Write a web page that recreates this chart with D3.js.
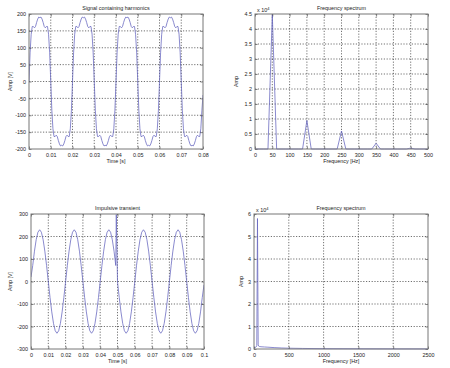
<!DOCTYPE html>
<html><head><meta charset="utf-8">
<script src="https://cdn.jsdelivr.net/npm/d3@7"></script>
<style>
html,body{margin:0;padding:0;background:#fff;}
svg{display:block;font-family:"Liberation Sans",Arial,sans-serif;}
</style></head>
<body><svg id="c" width="450" height="368"></svg>
<script>
// ---------- DATA ----------
// Panel 1: signal containing harmonics, sampled every 0.0005 s from 0 to 0.08 s
const harmonicStep = 0.0005;
const harmonicValues = [
 0,
 85,140,163,163,159,163,175,185,191,189,191,185,175,163,159,163,163,140,85,
 0,
 -85,-140,-163,-163,-159,-163,-175,-185,-191,-189,-191,-185,-175,-163,-159,-163,-163,-140,-85,
 0,
 85,140,163,163,159,163,175,185,191,189,191,185,175,163,159,163,163,140,85,
 0,
 -85,-140,-163,-163,-159,-163,-175,-185,-191,-189,-191,-185,-175,-163,-159,-163,-163,-140,-85,
 0,
 85,140,163,163,159,163,175,185,191,189,191,185,175,163,159,163,163,140,85,
 0,
 -85,-140,-163,-163,-159,-163,-175,-185,-191,-189,-191,-185,-175,-163,-159,-163,-163,-140,-85,
 0,
 85,140,163,163,159,163,175,185,191,189,191,185,175,163,159,163,163,140,85,
 0,
 -85,-140,-163,-163,-159,-163,-175,-185,-191,-189,-191,-185,-175,-163,-159,-163,-163,-140,-85,
 -40
];
// Panel 2: spectrum bins every 12.5 Hz from 0 to 500 Hz
const spectrum1Step = 12.5;
const spectrum1Values = [
 0,0,0,0,44800,0,0,0,0,0,0,0,9500,0,0,0,0,0,0,0,6000,0,0,0,0,0,0,0,1900,0,0,0,0,0,0,0,300,0,0,0,0
];
// Panel 3: impulsive transient, sampled every 0.001 s, plus the impulse samples
const transientStep = 0.001;
const transientValues = [
 20,71,135,186,219,230,219,186,135,71,0,-71,-135,-186,-219,-230,-219,-186,-135,-71,
 0,71,135,186,219,230,219,186,135,71,0,-71,-135,-186,-219,-230,-219,-186,-135,-71,
 0,71,135,186,219,230,219,186,135,71,0,-71,-135,-186,-219,-230,-219,-186,-135,-71,
 0,71,135,186,219,230,219,186,135,71,0,-71,-135,-186,-219,-230,-219,-186,-135,-71,
 0,71,135,186,219,230,219,186,135,71,0,-71,-135,-186,-219,-230,-219,-186,-135,-71,
 -15
];
const impulseTimes = [0.0493];
const impulseValues = [298];
// Panel 4: spectrum of the transient
const spectrum2Freq = [0,10,20,30,40,50,60,70,80,100,150,200,300,400,500,700,1000,1500,2000,2500];
const spectrum2Values = [500,600,700,900,1500,58000,1800,1200,1100,1000,900,800,600,450,350,250,150,100,60,40];

// Ticks
const p1XTicks = [0,0.01,0.02,0.03,0.04,0.05,0.06,0.07,0.08];
const p1XLabels = ["0","0.01","0.02","0.03","0.04","0.05","0.06","0.07","0.08"];
const p1YTicks = [-200,-150,-100,-50,0,50,100,150,200];
const p1YLabels = ["-200","-150","-100","-50","0","50","100","150","200"];
const p2XTicks = [0,50,100,150,200,250,300,350,400,450,500];
const p2XLabels = ["0","50","100","150","200","250","300","350","400","450","500"];
const p2YTicks = [0,5000,10000,15000,20000,25000,30000,35000,40000,45000];
const p2YLabels = ["0","0.5","1","1.5","2","2.5","3","3.5","4","4.5"];
const p3XTicks = [0,0.01,0.02,0.03,0.04,0.05,0.06,0.07,0.08,0.09,0.1];
const p3XLabels = ["0","0.01","0.02","0.03","0.04","0.05","0.06","0.07","0.08","0.09","0.1"];
const p3YTicks = [-300,-200,-100,0,100,200,300];
const p3YLabels = ["-300","-200","-100","0","100","200","300"];
const p4XTicks = [0,500,1000,1500,2000,2500];
const p4XLabels = ["0","500","1000","1500","2000","2500"];
const p4YTicks = [0,10000,20000,30000,40000,50000,60000];
const p4YLabels = ["0","1","2","3","4","5","6"];

// ---------- DRAW ----------
const svg = d3.select("#c");
const LINE = "#6363bd";
const FS = 5.4;

function panel(cfg, id){
  const x = d3.scaleLinear().domain(cfg.xDomain).range([cfg.left, cfg.right]);
  const y = d3.scaleLinear().domain(cfg.yDomain).range([cfg.bottom, cfg.top]);
  const g = svg.append("g");
  g.append("rect").attr("x",cfg.left).attr("y",cfg.top)
    .attr("width",cfg.right-cfg.left).attr("height",cfg.bottom-cfg.top).attr("fill","#fff");
  // grid
  g.append("g").selectAll("line").data(cfg.xTicks.slice(1,-1)).join("line")
    .attr("x1",d=>x(d)).attr("x2",d=>x(d)).attr("y1",cfg.top).attr("y2",cfg.bottom)
    .attr("stroke","#111").attr("stroke-width",0.6).attr("stroke-dasharray","1.2,1.6");
  g.append("g").selectAll("line").data(cfg.yTicks.slice(1,-1)).join("line")
    .attr("y1",d=>y(d)).attr("y2",d=>y(d)).attr("x1",cfg.left).attr("x2",cfg.right)
    .attr("stroke","#111").attr("stroke-width",0.6).attr("stroke-dasharray","1.2,1.6");
  svg.append("clipPath").attr("id","clip"+id).append("rect")
    .attr("x",cfg.left).attr("y",cfg.top-1).attr("width",cfg.right-cfg.left).attr("height",cfg.bottom-cfg.top+2);
  // data line
  g.append("path").datum(cfg.points).attr("clip-path","url(#clip"+id+")")
    .attr("fill","none").attr("stroke",LINE).attr("stroke-width",0.75)
    .attr("d", d3.line().x(d=>x(d[0])).y(d=>y(d[1])));
  // axes
  const ax = g.append("g").attr("transform",`translate(0,${cfg.bottom})`)
    .call(d3.axisBottom(x).tickValues(cfg.xTicks).tickFormat((d,i)=>cfg.xLabels[i]).tickSizeInner(-2.5).tickSizeOuter(0).tickPadding(4));
  const ay = g.append("g").attr("transform",`translate(${cfg.left},0)`)
    .call(d3.axisLeft(y).tickValues(cfg.yTicks).tickFormat((d,i)=>cfg.yLabels[i]).tickSizeInner(-2.5).tickSizeOuter(0).tickPadding(3));
  const at = g.append("g").attr("transform",`translate(0,${cfg.top})`)
    .call(d3.axisTop(x).tickValues(cfg.xTicks).tickFormat("").tickSizeInner(-2.5).tickSizeOuter(0));
  const ar = g.append("g").attr("transform",`translate(${cfg.right},0)`)
    .call(d3.axisRight(y).tickValues(cfg.yTicks).tickFormat("").tickSizeInner(-2.5).tickSizeOuter(0));
  [ax,ay,at,ar].forEach(a=>{
    a.select(".domain").remove();
    a.selectAll(".tick line").attr("stroke","#333").attr("stroke-width",0.6);
    a.selectAll("text").attr("font-size",FS).attr("fill","#222").attr("font-family","Liberation Sans, Arial, sans-serif");
  });
  // box
  g.append("rect").attr("x",cfg.left).attr("y",cfg.top)
    .attr("width",cfg.right-cfg.left).attr("height",cfg.bottom-cfg.top)
    .attr("fill","none").attr("stroke","#777").attr("stroke-width",1);
  // title & labels
  const cx = (cfg.left+cfg.right)/2;
  g.append("text").attr("x",cx).attr("y",cfg.top-4).attr("text-anchor","middle")
    .attr("font-size",FS).attr("fill","#222").text(cfg.title);
  g.append("text").attr("x",cx).attr("y",cfg.bottom+14).attr("text-anchor","middle")
    .attr("font-size",FS).attr("fill","#222").text(cfg.xLabel);
  g.append("text").attr("transform",`translate(${cfg.yLabelX},${(cfg.top+cfg.bottom)/2}) rotate(-90)`)
    .attr("text-anchor","middle").attr("font-size",FS).attr("fill","#222").text(cfg.yLabel);
  if(cfg.exponent){
    const t = g.append("text").attr("x",cfg.left+2).attr("y",cfg.top-2)
      .attr("font-size",FS).attr("fill","#222").text("x 10");
    t.append("tspan").attr("dy",-2).attr("font-size",FS*0.75).text(cfg.exponent);
  }
}

const p1Points = harmonicValues.map((v,i)=>[i*harmonicStep, v]);
const p2Points = spectrum1Values.map((v,i)=>[i*spectrum1Step, v]);
const p3Points = transientValues.map((v,i)=>[i*transientStep, v])
  .concat(impulseTimes.map((t,i)=>[t, impulseValues[i]]))
  .sort((a,b)=>a[0]-b[0]);
const p4Points = spectrum2Freq.map((f,i)=>[f, spectrum2Values[i]]);

panel({left:29,right:203,top:14,bottom:149,xDomain:[0,0.08],yDomain:[-200,200],
  xTicks:p1XTicks,xLabels:p1XLabels,yTicks:p1YTicks,yLabels:p1YLabels,
  title:"Signal containing harmonics",xLabel:"Time [s]",yLabel:"Amp [V]",yLabelX:12,points:p1Points},1);
panel({left:255,right:428,top:14,bottom:149,xDomain:[0,500],yDomain:[0,45000],
  xTicks:p2XTicks,xLabels:p2XLabels,yTicks:p2YTicks,yLabels:p2YLabels,
  title:"Frequency spectrum",xLabel:"Frequency [Hz]",yLabel:"Amp",yLabelX:238,points:p2Points,exponent:"4"},2);
panel({left:31,right:204,top:214,bottom:349,xDomain:[0,0.1],yDomain:[-300,300],
  xTicks:p3XTicks,xLabels:p3XLabels,yTicks:p3YTicks,yLabels:p3YLabels,
  title:"Impulsive transient",xLabel:"Time [s]",yLabel:"Amp [V]",yLabelX:12,points:p3Points},3);
panel({left:254,right:428,top:214,bottom:349,xDomain:[0,2500],yDomain:[0,60000],
  xTicks:p4XTicks,xLabels:p4XLabels,yTicks:p4YTicks,yLabels:p4YLabels,
  title:"Frequency spectrum",xLabel:"Frequency [Hz]",yLabel:"Amp",yLabelX:243,points:p4Points,exponent:"4"},4);
</script>
</body></html>
